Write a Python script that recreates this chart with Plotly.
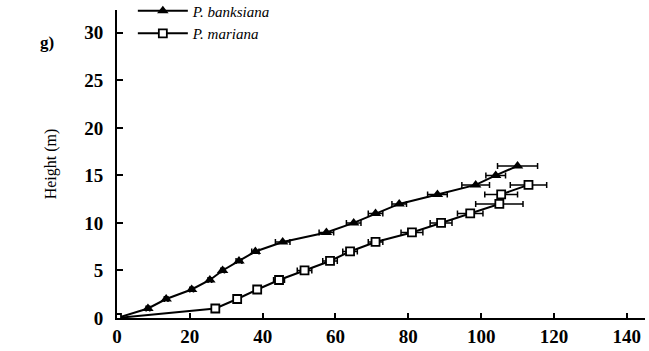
import plotly.graph_objects as go

banks_x = [0, 8.5, 13.5, 20.5, 25.5, 29, 33.5, 38, 45.5, 57.5, 65, 71, 77.5, 88, 98.5, 104, 110]
banks_y = [0, 1, 2, 3, 4, 5, 6, 7, 8, 9, 10, 11, 12, 13, 14, 15, 16]
banks_err = [0, 0.5, 0.5, 0.5, 0.5, 0.5, 0.8, 1, 2, 2, 2, 2, 2, 2.7, 3.8, 2.7, 5.5]

mar_x = [0, 27, 33, 38.5, 44.5, 51.5, 58.5, 64, 71, 81, 89, 97, 105, 105.5, 113]
mar_y = [0, 1, 2, 3, 4, 5, 6, 7, 8, 9, 10, 11, 12, 13, 14]
mar_err = [0, 0, 0, 0, 1.5, 2, 2, 2, 2, 3, 3, 3.5, 6.5, 4.5, 5]

x_ticks = [0, 20, 40, 60, 80, 100, 120, 140]
y_ticks = [0, 5, 10, 15, 20, 25, 30]

serif = "Liberation Serif"

fig = go.Figure()
fig.add_trace(go.Scatter(
    x=banks_x, y=banks_y, mode="lines+markers", name="<i>P. banksiana</i>",
    line=dict(color="black", width=2),
    marker=dict(symbol="triangle-up", size=10, color="black"),
    error_x=dict(type="data", array=banks_err, color="black", thickness=1.5, width=3),
))
fig.add_trace(go.Scatter(
    x=mar_x, y=mar_y, mode="lines+markers", name="<i>P. mariana</i>",
    line=dict(color="black", width=2),
    marker=dict(symbol="square", size=8, color="white", line=dict(width=1.8, color="black")),
    error_x=dict(type="data", array=mar_err, color="black", thickness=1.5, width=3),
))

fig.update_layout(
    width=649, height=351,
    margin=dict(l=117, r=4, t=10, b=33, autoexpand=False),
    plot_bgcolor="white", paper_bgcolor="white",
    font=dict(family=serif, color="black"),
    showlegend=True,
    legend=dict(x=0.03, y=1.05, xanchor="left", yanchor="top",
                font=dict(family=serif, size=15, color="black"),
                bgcolor="rgba(0,0,0,0)", tracegroupgap=0, itemwidth=50),
    annotations=[dict(text="<b>g)</b>", xref="paper", yref="paper", x=-0.133, y=0.893,
                      xanchor="center", yanchor="middle",
                      showarrow=False, font=dict(family=serif, size=17))],
)

fig.update_xaxes(range=[0, 145], tickvals=x_ticks, showgrid=False, zeroline=False,
                 showline=True, linecolor="black", linewidth=2,
                 ticks="inside", ticklen=5, tickwidth=1.5, tickcolor="black",
                 tickfont=dict(family=serif, size=19, weight="bold"))
fig.update_yaxes(range=[0, 32.4], tickvals=y_ticks, showgrid=False, zeroline=False,
                 showline=True, linecolor="black", linewidth=2,
                 ticks="inside", ticklen=6, tickwidth=1.5, tickcolor="black",
                 ticklabelstandoff=8,
                 tickfont=dict(family=serif, size=19, weight="bold"),
                 title=dict(text="Height (m)", font=dict(family=serif, size=16), standoff=24))

fig.write_html("out.html")
